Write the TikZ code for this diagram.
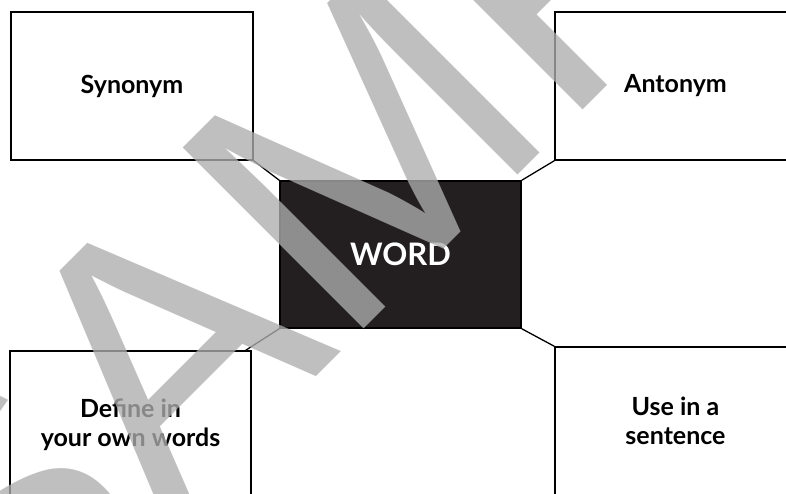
\documentclass[tikz,border=0pt]{standalone}
\usepackage{fontspec}
\setmainfont{Lato}
\newfontfamily\wmfont{Liberation Sans}
\definecolor{wordfill}{HTML}{231F20}
\definecolor{wmgray}{RGB}{174,174,174}
\tikzset{
  box/.style={draw=black, line width=1.5pt, rectangle, inner sep=0pt, align=center,
              font=\bfseries\fontsize{25}{29.5}\selectfont},
  link/.style={draw=black, line width=1.3pt},
}
\begin{document}
\begin{tikzpicture}[x=1pt,y=-1pt]
\clip (0,0) rectangle (786,493);
\fill[white] (0,0) rectangle (786,493);
\node[box, minimum width=242pt, minimum height=148pt] (syn) at (132,86) {Synonym};
\node[box, minimum width=241pt, minimum height=148pt] (ant) at (675.5,86) {Antonym};
\node[box, fill=wordfill, text=white, minimum width=241pt, minimum height=147pt,
      font=\bfseries\fontsize{31}{36}\selectfont] (word) at (400.5,254.5) {WORD};
\node[box, minimum width=241pt, minimum height=148pt] (def) at (130.5,425) {Define in\\your own words};
\node[box, minimum width=241pt, minimum height=148pt] (use) at (675.5,421) {Use in a\\sentence};
\draw[link] (syn.south east) -- (word.north west);
\draw[link] (word.north east) -- (ant.south west);
\draw[link] (word.south west) -- ([xshift=-6pt]def.north east);
\draw[link] (word.south east) -- (use.north west);
\node[anchor=base west, inner sep=0pt, rotate=45, text=wmgray, text opacity=0.78,
      font=\wmfont\fontsize{372}{372}\selectfont] (wm) at (-9,702) {SAMPLE};
\end{tikzpicture}
\end{document}
